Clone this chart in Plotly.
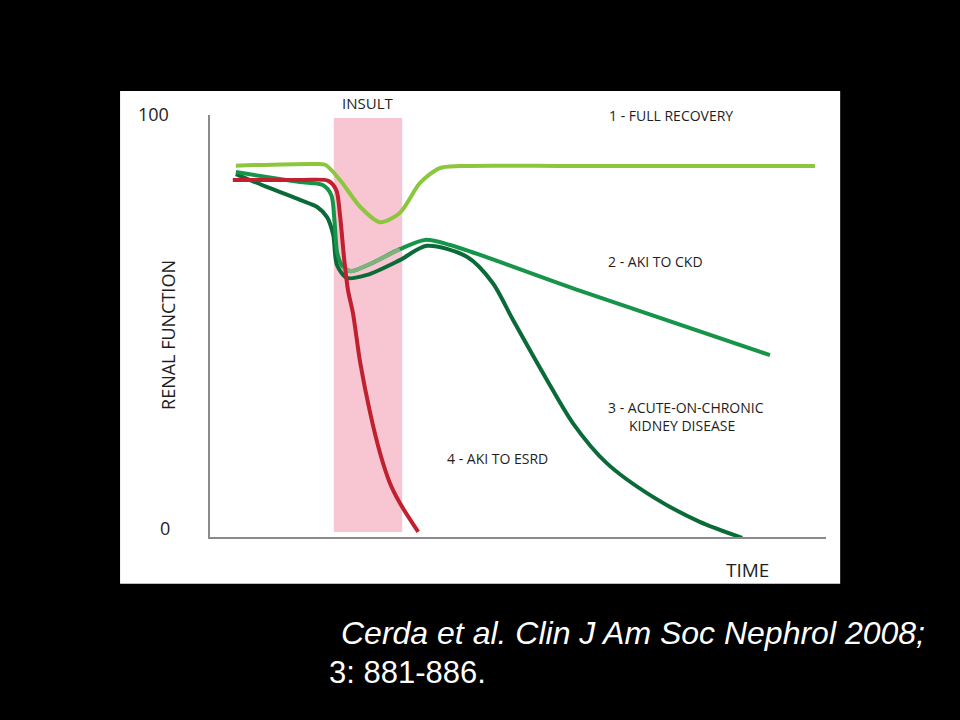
import plotly.graph_objects as go

# renal function (0-100) against time (0-100, arbitrary units)
recovery_t = [4.2, 16.7, 18.7, 21.1, 24.4, 27.6, 30.8, 34.1, 37.3, 40.6, 60.0, 98.2]
recovery_f = [88.0, 88.4, 88.2, 84.6, 78.2, 74.6, 76.8, 83.9, 87.4, 87.9, 87.9, 87.9]

ckd_t = [4.2, 9.2, 14.6, 18.3, 19.7, 20.2, 20.7, 21.6, 22.9, 26.0, 30.8, 34.9, 39.0, 60.0, 90.9]
ckd_f = [86.5, 85.3, 84.1, 83.4, 81.0, 75.0, 67.0, 64.0, 63.0, 64.7, 68.2, 70.4, 69.2, 58.4, 43.1]

chronic_t = [4.2, 9.3, 14.6, 17.4, 19.0, 20.0, 20.6, 22.2, 25.5, 30.8, 35.2, 41.7, 45.9,
             49.2, 54.7, 58.9, 64.4, 71.9, 79.5, 86.4]
chronic_f = [86.0, 82.9, 79.9, 78.2, 75.8, 71.6, 64.5, 61.4, 62.1, 65.6, 69.0, 66.4, 60.2,
             51.4, 37.2, 27.0, 17.5, 9.5, 3.6, -0.2]

esrd_t = [3.7, 14.6, 19.2, 20.5, 21.1, 21.8, 22.4, 23.2, 24.4, 26.0, 27.6, 29.2, 30.8, 33.8]
esrd_f = [84.6, 84.6, 84.4, 82.2, 76.3, 65.6, 58.5, 53.1, 41.2, 29.4, 19.9, 12.8, 8.1, 1.2]

insult_start, insult_end = 20.1, 31.2

curve_labels = ["1 - FULL RECOVERY", "2 - AKI TO CKD", "3 - ACUTE-ON-CHRONIC", "KIDNEY DISEASE", "4 - AKI TO ESRD"]
label_t = [64.4, 64.3, 64.3, 67.7, 38.1]
label_f = [99.8, 65.2, 30.6, 26.5, 18.5]

citation = ["Cerda et al. Clin J Am Soc Nephrol 2008;", "3: 881-886."]

fig = go.Figure()

def add_curve(t, f, color):
    fig.add_trace(go.Scatter(x=t, y=f, mode='lines', line=dict(color=color, width=4, shape='spline', smoothing=0.8),
                             cliponaxis=False, hoverinfo='skip', showlegend=False))

add_curve(recovery_t, recovery_f, '#8cc63f')
add_curve(chronic_t, chronic_f, '#0a6b38')
add_curve(ckd_t, ckd_f, '#16954a')
# the part of curve 2 inside the insult band is drawn paler
add_curve(ckd_t[7:11], ckd_f[7:11], '#7db47c')
add_curve(esrd_t, esrd_f, '#c1202f')

# white card behind the chart, then the insult band
fig.add_shape(type='rect', xref='paper', yref='paper', x0=-0.146, x1=1.023, y0=-0.111, y1=1.057,
              fillcolor='white', line=dict(width=0), layer='below')
fig.add_shape(type='rect', xref='x', yref='y', x0=insult_start, x1=insult_end, y0=1.2, y1=99.3,
              fillcolor='#f8c6d3', line=dict(width=0), layer='below')

txt = dict(family='Open Sans, sans-serif', color='#1e1e1e')
for lab, t, f in zip(curve_labels, label_t, label_f):
    fig.add_annotation(x=t, y=f, text=lab, showarrow=False, xanchor='left', yanchor='middle', font=dict(size=14, **txt))

def paper_text(x, y, text, size, angle=0, font=None, anchor='center'):
    fig.add_annotation(x=x, y=y, xref='paper', yref='paper', text=text, showarrow=False, textangle=angle,
                       xanchor=anchor, yanchor='middle', font=font or dict(size=size, **txt))

paper_text(0.255, 1.028, 'INSULT', 15)
paper_text(-0.0925, 1.002, '100', 18)
paper_text(-0.073, 0.021, '0', 18)
paper_text(-0.068, 0.479, 'RENAL FUNCTION', 18, angle=-90,
           font=dict(size=18, family='Liberation Sans Narrow, Open Sans, sans-serif', color='#1e1e1e'))
paper_text(0.873, -0.078, 'TIME', 19)

paper_text(0.209, -0.2275, '<i>' + citation[0] + '</i>', 32, anchor='left',
           font=dict(size=32, family='Liberation Sans, Arial, sans-serif', color='white'))
paper_text(0.19, -0.32, citation[1], 31, anchor='left',
           font=dict(size=31, family='Liberation Sans, Arial, sans-serif', color='white'))

fig.update_layout(
    width=960, height=720,
    margin=dict(l=210, r=134, t=115, b=183),
    paper_bgcolor='black', plot_bgcolor='white',
    xaxis=dict(range=[0, 100], showline=True, linecolor='#8a8a8a', linewidth=2, showgrid=False,
               zeroline=False, showticklabels=False, ticks=''),
    yaxis=dict(range=[0, 100], showline=True, linecolor='#8a8a8a', linewidth=2, showgrid=False,
               zeroline=False, showticklabels=False, ticks=''),
)

fig.write_html("out.html", config={'displayModeBar': False},
               post_script="document.body.style.margin='0px'; document.body.style.overflow='hidden';")
